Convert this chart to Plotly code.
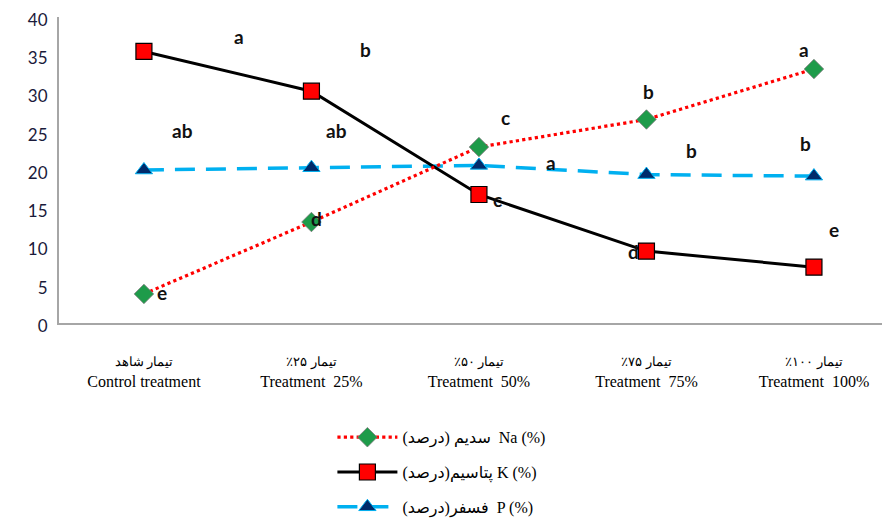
import plotly.graph_objects as go

categories_en = ["Control treatment", "Treatment  25%", "Treatment  50%", "Treatment  75%", "Treatment  100%"]
categories_fa = ["تیمار شاهد", "تیمار ۲۵٪", "تیمار ۵۰٪", "تیمار ۷۵٪", "تیمار ۱۰۰٪"]
na_values = [3.8, 13.2, 23.0, 26.6, 33.2]
k_values = [35.5, 30.3, 16.8, 9.4, 7.3]
p_values = [20.0, 20.3, 20.6, 19.4, 19.2]
series_names = ["سدیم (درصد)  Na (%)", "پتاسیم(درصد) K (%)", "فسفر(درصد)  P (%)"]

# significance letters: (letter, category position, value)
letters = [
    ("a", 0.57, 37.4), ("b", 1.32, 35.7), ("ab", 0.23, 25.2), ("ab", 1.15, 25.2),
    ("c", 2.16, 26.9), ("a", 2.43, 21.0), ("b", 3.01, 30.3), ("b", 3.27, 22.6),
    ("a", 3.94, 35.7), ("b", 3.95, 23.4), ("e", 4.12, 12.2), ("d", 1.03, 13.7),
    ("e", 0.11, 4.05), ("c", 2.11, 16.1), ("d", 2.92, 9.4),
]

x = list(range(len(categories_en)))
ticktext = [f"<span style='font-size:13px'>\u200f{fa}\u200f</span><br>{en}" for fa, en in zip(categories_fa, categories_en)]

fig = go.Figure()
fig.add_trace(go.Scatter(
    x=x, y=p_values, name=series_names[2], mode="lines+markers", legendrank=3, legendgroup="p",
    line=dict(color="#00b0f0", width=3.5, dash="20px,11px"),
    marker=dict(symbol="triangle-up", size=15, color="#002b6b", line=dict(color="#00b0f0", width=1)),
))
fig.add_trace(go.Scatter(
    x=x, y=k_values, name=series_names[1], mode="lines+markers", legendrank=2, legendgroup="k",
    line=dict(color="#000000", width=3),
    marker=dict(symbol="square", size=16, color="#ff0000", line=dict(color="#000000", width=1.2)),
))
fig.add_trace(go.Scatter(
    x=x, y=na_values, name=series_names[0], mode="lines+markers", legendrank=1, legendgroup="na",
    line=dict(color="#ff0000", width=3.2, dash="dot"),
    marker=dict(symbol="diamond", size=15, color="#1e9b4a", line=dict(color="#7a7a7a", width=0.8)),
))

for txt, xp, yp in letters:
    fig.add_annotation(x=xp, y=yp, text=f"<b>{txt}</b>", showarrow=False,
                       font=dict(family="Lato, Open Sans, sans-serif", size=19, color="#111111"))

fig.update_layout(
    width=890, height=524,
    margin=dict(l=51, r=8, t=9, b=209),
    paper_bgcolor="white", plot_bgcolor="white",
    showlegend=True,
    legend=dict(x=0.329, y=-0.318, xanchor="left", yanchor="top",
                font=dict(family="Liberation Serif, DejaVu Sans, serif", size=16, color="#000000"),
                tracegroupgap=11, itemwidth=60, bgcolor="rgba(0,0,0,0)"),
)
fig.update_xaxes(
    range=[-0.507, 4.454], tickmode="array", tickvals=x, ticktext=ticktext,
    showgrid=False, zeroline=False, showline=True, linecolor="#a6a6a6", linewidth=2,
    ticks="", ticklabelstandoff=22, automargin=False, ticklabeloverflow="allow",
    tickfont=dict(family="Liberation Serif, DejaVu Serif, serif", size=16, color="#000000"),
)
fig.update_yaxes(
    range=[0, 40], dtick=5, tick0=0, automargin=False, ticklabeloverflow="allow",
    ticklabelshift=3,
    showgrid=False, zeroline=False, showline=True, linecolor="#a6a6a6", linewidth=2,
    ticks="outside", ticklen=6, tickcolor="white",
    tickfont=dict(family="Lato, Open Sans, sans-serif", size=17, color="#1a1a3a"),
)

fig.write_html("out.html")
